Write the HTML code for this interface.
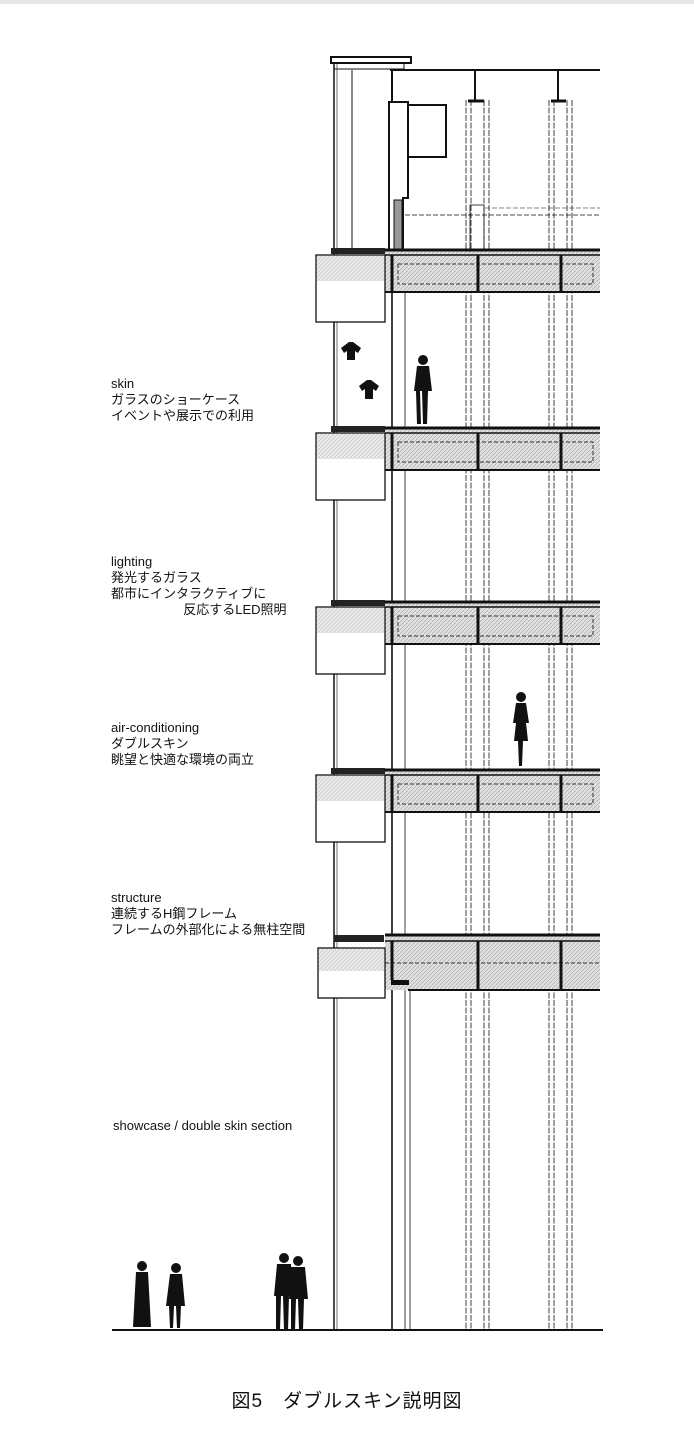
<!DOCTYPE html>
<html><head><meta charset="utf-8"><style>
html,body{margin:0;padding:0;background:#fff;}
body{width:694px;height:1444px;position:relative;overflow:hidden;font-family:"Liberation Sans","Noto Sans CJK JP",sans-serif;color:#111;}
.t{position:absolute;left:111px;font-size:13px;line-height:16px;white-space:pre;}
</style></head><body>
<div style="position:absolute;left:0;top:0;width:694px;height:4px;background:#e6e6e6"></div>
<svg width="694" height="1444" style="position:absolute;left:0;top:0" xmlns="http://www.w3.org/2000/svg">
<defs>
<pattern id="h" width="4" height="4" patternUnits="userSpaceOnUse"><rect width="4" height="4" fill="#e2e2e2"/><path d="M0 4L4 0" stroke="#aaa" stroke-width="0.7"/></pattern>
</defs>
<g stroke="#111" fill="none">
<!-- parapet -->
<rect x="331" y="57" width="80" height="6" stroke-width="2"/>
<rect x="334" y="63" width="70" height="6" stroke-width="1"/>
<line x1="390" y1="70" x2="600" y2="70" stroke-width="2"/>
<line x1="475" y1="70" x2="475" y2="100" stroke-width="2"/>
<line x1="558" y1="70" x2="558" y2="100" stroke-width="2"/>
<line x1="468" y1="101" x2="484" y2="101" stroke-width="3"/>
<line x1="551" y1="101" x2="566" y2="101" stroke-width="3"/>
<rect x="408" y="105" width="38" height="52" stroke-width="2"/>
<path d="M389 250V102H408V198H403V250" stroke-width="2"/>
<rect x="394" y="200" width="8" height="50" fill="#999" stroke-width="1"/>
<line x1="392" y1="70" x2="392" y2="102" stroke-width="2"/>
<line x1="352" y1="70" x2="352" y2="250" stroke-width="1"/>
<line x1="405" y1="215" x2="600" y2="215" stroke-width="0.8" stroke-dasharray="5 2"/>
<line x1="485" y1="208" x2="600" y2="208" stroke-width="0.6" stroke-dasharray="5 2"/>
<rect x="470" y="205" width="14" height="45" stroke-width="0.8"/>
<!-- outer glass -->
<line x1="334" y1="63" x2="334" y2="1330" stroke-width="1.5"/>
<line x1="337" y1="63" x2="337" y2="1330" stroke-width="0.6"/>
<!-- inner facade columns -->
<line x1="392" y1="290" x2="392" y2="1330" stroke-width="1.6"/>
<line x1="405" y1="290" x2="405" y2="1330" stroke-width="0.8"/>
<line x1="410" y1="990" x2="410" y2="1330" stroke-width="0.8"/>
<!-- interior columns -->
<g stroke-width="0.8" stroke-dasharray="6 1.5">
<line x1="466" y1="100" x2="466" y2="1330"/><line x1="471" y1="100" x2="471" y2="1330"/>
<line x1="484" y1="100" x2="484" y2="1330"/><line x1="489" y1="100" x2="489" y2="1330"/>
<line x1="549" y1="100" x2="549" y2="1330"/><line x1="554" y1="100" x2="554" y2="1330"/>
<line x1="567" y1="100" x2="567" y2="1330"/><line x1="572" y1="100" x2="572" y2="1330"/>
</g>
</g>
<!-- floor slabs -->
<g id="slabs">
<g transform="translate(0,250)">
<rect x="385" y="0" width="215" height="42" fill="url(#h)"/>
<line x1="385" y1="0" x2="600" y2="0" stroke="#111" stroke-width="3"/>
<line x1="385" y1="5" x2="600" y2="5" stroke="#111" stroke-width="1.5"/>
<line x1="385" y1="42" x2="600" y2="42" stroke="#111" stroke-width="2"/>
<rect x="398" y="14" width="195" height="20" fill="none" stroke="#333" stroke-width="1" stroke-dasharray="4 2"/>
<line x1="478" y1="5" x2="478" y2="42" stroke="#111" stroke-width="3"/>
<line x1="561" y1="5" x2="561" y2="42" stroke="#111" stroke-width="3"/>
<line x1="392" y1="5" x2="392" y2="42" stroke="#111" stroke-width="3"/>
<rect x="316" y="5" width="69" height="67" fill="#fff" stroke="#111" stroke-width="1.3"/>
<rect x="317" y="6" width="67" height="25" fill="url(#h)" opacity="0.7"/>
<rect x="331" y="-2" width="54" height="6" fill="#222"/>
</g>
</g>
<use href="#slabs" transform="translate(0,178)"/>
<use href="#slabs" transform="translate(0,352)"/>
<use href="#slabs" transform="translate(0,520)"/>
<g transform="translate(0,685)">
<rect x="385" y="250" width="215" height="55" fill="url(#h)"/>
<line x1="385" y1="250" x2="600" y2="250" stroke="#111" stroke-width="3"/>
<line x1="385" y1="256" x2="600" y2="256" stroke="#111" stroke-width="1.5"/>
<line x1="385" y1="278" x2="600" y2="278" stroke="#333" stroke-width="1" stroke-dasharray="4 2"/>
<line x1="408" y1="305" x2="600" y2="305" stroke="#111" stroke-width="2"/>
<line x1="478" y1="256" x2="478" y2="305" stroke="#111" stroke-width="3"/>
<line x1="561" y1="256" x2="561" y2="305" stroke="#111" stroke-width="3"/>
<line x1="392" y1="256" x2="392" y2="295" stroke="#111" stroke-width="3"/>
<rect x="391" y="295" width="18" height="5" fill="#111"/>
<rect x="318" y="263" width="67" height="50" fill="#fff" stroke="#111" stroke-width="1.3"/>
<rect x="319" y="264" width="65" height="22" fill="url(#h)" opacity="0.7"/>
<rect x="334" y="250" width="50" height="7" fill="#222"/>
</g>
<!-- ground -->
<line x1="112" y1="1330" x2="603" y2="1330" stroke="#111" stroke-width="2"/>
<!-- people -->
<g fill="#111">
<circle cx="423" cy="360" r="5"/><path d="M417 366h12l3 25h-4l-1 33h-4l-1-33h-2l1 33h-4l-1-33h-2z"/>
<circle cx="521" cy="697" r="5"/><path d="M516 703h10l3 20h-3l2 18h-5l-1 25h-3l-1-25h-4l2-18h-3z"/>
<circle cx="142" cy="1266" r="5"/><path d="M136 1272h12l3 55h-18z"/>
<circle cx="176" cy="1268" r="5"/><path d="M170 1274h12l3 32h-4l-1 22h-3l-1-22h-2l-1 22h-3l-1-22h-3z"/>
<circle cx="284" cy="1258" r="5"/><path d="M277 1264h14l2 32h-4l-1 34h-4l-1-34h-2l-1 34h-4v-34h-2z"/>
<circle cx="298" cy="1261" r="5"/><path d="M291 1267h14l3 32h-4l-1 31h-4l-1-31h-2l-1 31h-4v-31h-2z"/>
<path d="M341 348l8-6h4l8 6-3 5-3-2v9h-8v-9l-3 2z"/>
<path d="M359 386l8-6h4l8 6-3 5-3-2v10h-8v-10l-3 2z"/>
</g>
</svg>
<div class="t" style="top:376px">skin
ガラスのショーケース
イベントや展示での利用</div>
<div class="t" style="top:554px">lighting
発光するガラス
都市にインタラクティブに
                    反応するLED照明</div>
<div class="t" style="top:720px">air-conditioning
ダブルスキン
眺望と快適な環境の両立</div>
<div class="t" style="top:890px">structure
連続するH鋼フレーム
フレームの外部化による無柱空間</div>
<div class="t" style="top:1118px;left:113px">showcase / double skin section</div>
<div style="position:absolute;left:0;width:694px;top:1386px;text-align:center;font-size:19px;letter-spacing:1px">図5　ダブルスキン説明図</div>
</body></html>
